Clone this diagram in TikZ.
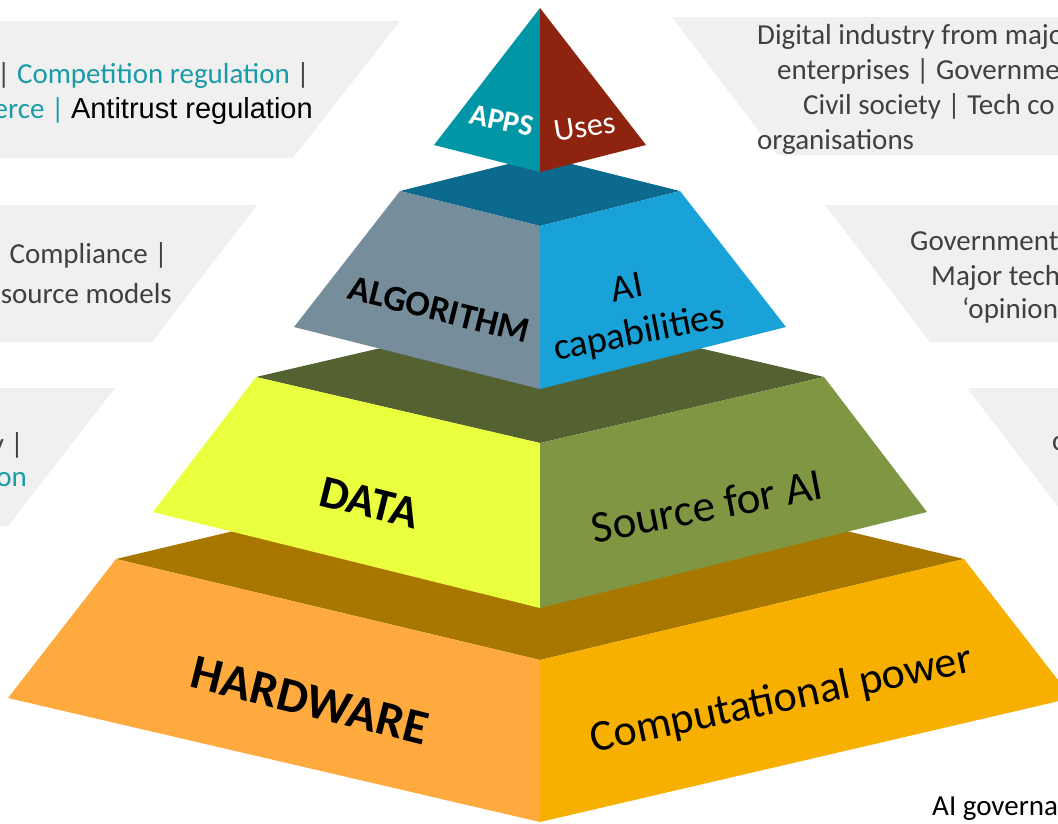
\documentclass[tikz,border=0pt]{standalone}
\usepackage{fontspec}
\setmainfont{Carlito}
\newfontfamily\arialfont{Liberation Sans}
\definecolor{boxgray}{HTML}{F0F0F0}
\definecolor{txtgray}{HTML}{404040}
\definecolor{lawteal}{HTML}{1A9BA8}
\definecolor{appsface}{HTML}{0096A6}
\definecolor{usesface}{HTML}{8E2410}
\definecolor{algtop}{HTML}{0D6A8F}
\definecolor{algleft}{HTML}{768E9B}
\definecolor{algright}{HTML}{18A2D8}
\definecolor{datatop}{HTML}{546131}
\definecolor{dataleft}{HTML}{EAFF3E}
\definecolor{dataright}{HTML}{7F9643}
\definecolor{hwtop}{HTML}{A87700}
\definecolor{hwleft}{HTML}{FFAA3F}
\definecolor{hwright}{HTML}{F7B000}
\begin{document}
\begin{tikzpicture}[x=1pt,y=-1pt,
    govbox/.style={fill=boxgray},
    govtext/.style={inner sep=0pt,text=txtgray,font=\fontsize{29}{35}\selectfont},
    layertext/.style={inner sep=0pt,anchor=base}]
    \useasboundingbox (0,0) rectangle (1058,823);
    \clip (0,0) rectangle (1058,823);
    %% Governance boxes, left
    \fill[govbox] (-10,21) -- (400,21) -- (293,158) -- (-10,158) -- cycle;
    \fill[govbox] (-10,205) -- (257,205) -- (152,342) -- (-10,342) -- cycle;
    \fill[govbox] (-10,388) -- (115,388) -- (8,526) -- (-10,526) -- cycle;
    %% Governance boxes, right
    \fill[govbox] (672,17) -- (1080,17) -- (1080,155) -- (777,155) -- cycle;
    \fill[govbox] (825,205) -- (1080,205) -- (1080,342) -- (930,342) -- cycle;
    \fill[govbox] (967,388) -- (1080,388) -- (1080,526) -- (1073,526) -- cycle;
    %% Texts, left
    \node[govtext,anchor=base east] (lawA) at (310,83)
        {| \textcolor{lawteal}{Competition regulation} |};
    \node[govtext,anchor=base east] (lawB) at (313,118)
        {\textcolor{lawteal}{erce |} \textcolor{black}{\arialfont Antitrust regulation}};
    \node[govtext,anchor=base east] (algoA) at (168,263) {| Compliance |};
    \node[govtext,anchor=base east] (algoB) at (172,303) {source models};
    \node[govtext,anchor=base east] (dataA) at (24,453) {y |};
    \node[govtext,anchor=base east,text=lawteal] (dataB) at (27,486) {on};
    %% Texts, right
    \node[govtext,anchor=base west] (actA) at (757,44) {Digital industry from majo};
    \node[govtext,anchor=base west] (actB) at (777,79) {enterprises | Governme};
    \node[govtext,anchor=base west] (actC) at (803,114) {Civil society | Tech co};
    \node[govtext,anchor=base west] (actD) at (757,149) {organisations};
    \node[govtext,anchor=base west] (voiceA) at (910,250) {Government};
    \node[govtext,anchor=base west] (voiceB) at (931,285) {Major tech};
    \node[govtext,anchor=base west] (voiceC) at (962,318) {‘opinion};
    \node[govtext,anchor=base west] (lowC) at (1052,450) {c};
    \node[govtext,anchor=base west,text=black] (govnote) at (932,815) {AI governa};
    %% Pyramid layers
    \foreach \topw/\topy/\topd/\botw/\boty/\botd/\ctop/\cleft/\cright in
        {424/559/101/532/698/124/hwtop/hwleft/hwright,
         284/377/66/387/512/96/datatop/dataleft/dataright,
         140/191/35/246/327/62/algtop/algleft/algright}
    {
        \fill[\ctop] (540-\topw,\topy) -- (540,\topy-\topd) -- (540+\topw,\topy)
            -- (540,\topy+\topd) -- cycle;
        \fill[\cleft] (540-\topw,\topy) -- (540,\topy+\topd) -- (540,\boty+\botd)
            -- (540-\botw,\boty) -- cycle;
        \fill[\cright] (540,\topy+\topd) -- (540+\topw,\topy) -- (540+\botw,\boty)
            -- (540,\boty+\botd) -- cycle;
    }
    %% Apps
    \fill[appsface] (540,8) -- (540,172) -- (434,145) -- cycle;
    \fill[usesface] (540,8) -- (646,145) -- (540,172) -- cycle;
    %% Layer names
    \node[layertext,rotate=-14,font=\fontsize{49}{49}\selectfont\bfseries] (hardware) at (306,716) {HARDWARE};
    \node[layertext,rotate=12,font=\fontsize{44}{44}\selectfont] (compute) at (784,712) {Computational power};
    \node[layertext,rotate=-14,font=\fontsize{46}{46}\selectfont\bfseries] (data) at (366,517) {DATA};
    \node[layertext,rotate=11,font=\fontsize{45}{45}\selectfont] (source) at (710,521) {Source for AI};
    \node[layertext,rotate=-14,font=\fontsize{36}{36}\selectfont\bfseries] (algorithm) at (436,321) {ALGORITHM};
    \node[layertext,rotate=11,font=\fontsize{38}{38}\selectfont] (aiword) at (629,299) {AI};
    \node[layertext,rotate=11,font=\fontsize{38}{38}\selectfont] (capability) at (641,344) {capabilities};
    \node[layertext,rotate=-12,text=white,font=\fontsize{30}{30}\selectfont\bfseries] (apps) at (500,130) {APPS};
    \node[layertext,rotate=9,text=white,font=\fontsize{32}{32}\selectfont] (uses) at (586,137) {Uses};
\end{tikzpicture}
\end{document}
